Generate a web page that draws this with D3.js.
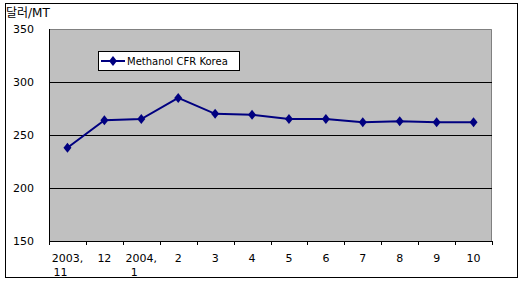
<!DOCTYPE html>
<html>
<head>
<meta charset="utf-8">
<script src="https://cdn.jsdelivr.net/npm/d3@7"></script>
<style>
  body { margin: 0; background: #fff; }
  svg text { font-family: "DejaVu Sans", "Noto Sans CJK KR", sans-serif; fill: #000; }
</style>
</head>
<body>
<svg id="chart" width="523" height="286"></svg>
<script>
// ---------------------- DATA ----------------------
const months = ["2003,|11", "12", "2004,|1", "2", "3", "4", "5", "6", "7", "8", "9", "10"];
const prices = [238, 264, 265, 285, 270, 269, 265, 265, 262, 263, 262, 262];
const yTicks = [150, 200, 250, 300, 350];
const seriesName = "Methanol CFR Korea";
const unitLabel = "달러/MT";

// ---------------------- LAYOUT ----------------------
const svg = d3.select("#chart");
const plot = {left: 49, right: 492, top: 29, bottom: 241};

// outer frame
svg.append("rect")
    .attr("x", 5.5).attr("y", 3.5)
    .attr("width", 512).attr("height", 274)
    .attr("fill", "#fff").attr("stroke", "#000");

const x = d3.scaleBand().domain(d3.range(months.length)).range([plot.left, plot.right]);
const y = d3.scaleLinear().domain([150, 350]).range([plot.bottom, plot.top]);

// plot area background
svg.append("rect")
    .attr("x", plot.left).attr("y", plot.top)
    .attr("width", plot.right - plot.left).attr("height", plot.bottom - plot.top)
    .attr("fill", "#c0c0c0");

// gray top/right frame of plot area
svg.append("path")
    .attr("d", `M${plot.left},${plot.top + 0.5}H${plot.right - 0.5}V${plot.bottom}`)
    .attr("fill", "none").attr("stroke", "#808080");

// gridlines
svg.selectAll(".grid")
    .data(yTicks.filter(t => t > 150 && t < 350))
    .join("line")
    .attr("class", "grid")
    .attr("x1", plot.left).attr("x2", plot.right)
    .attr("y1", d => Math.round(y(d)) + 0.5).attr("y2", d => Math.round(y(d)) + 0.5)
    .attr("stroke", "#000");

// y labels
svg.selectAll(".ylab")
    .data(yTicks)
    .join("text")
    .attr("class", "ylab")
    .attr("x", 34).attr("y", d => y(d) + 4)
    .attr("text-anchor", "end")
    .style("font-size", "11px")
    .text(d => d);

// axes lines
svg.append("line")
    .attr("x1", plot.left + 0.5).attr("x2", plot.left + 0.5)
    .attr("y1", plot.top).attr("y2", plot.bottom)
    .attr("stroke", "#000");
svg.append("line")
    .attr("x1", plot.left).attr("x2", plot.right)
    .attr("y1", plot.bottom + 0.5).attr("y2", plot.bottom + 0.5)
    .attr("stroke", "#000");

// x ticks between categories
svg.selectAll(".xtick")
    .data(d3.range(months.length + 1))
    .join("line")
    .attr("class", "xtick")
    .attr("x1", d => Math.round(plot.left + d * x.step()) + 0.5)
    .attr("x2", d => Math.round(plot.left + d * x.step()) + 0.5)
    .attr("y1", plot.bottom).attr("y2", plot.bottom + 4)
    .attr("stroke", "#000");

// x labels (two lines where needed)
const xl = svg.selectAll(".xlab")
    .data(months)
    .join("text")
    .attr("class", "xlab")
    .attr("text-anchor", "middle")
    .style("font-size", "11px");
xl.each(function(d, i) {
    const parts = d.split("|");
    const cx = x(i) + x.bandwidth() / 2;
    parts.forEach((p, k) => {
        d3.select(this).append("tspan")
            .attr("x", cx - (k > 0 ? 7 : 0))
            .attr("y", 262 + k * 14)
            .text(p);
    });
});

// series line
const line = d3.line()
    .x((d, i) => x(i) + x.bandwidth() / 2)
    .y(d => y(d));

svg.append("path")
    .datum(prices)
    .attr("d", line)
    .attr("fill", "none")
    .attr("stroke", "#000080")
    .attr("stroke-width", 2);

const diamond = "M0,-5L4,0L0,5L-4,0Z";
svg.selectAll(".pt")
    .data(prices)
    .join("path")
    .attr("class", "pt")
    .attr("d", diamond)
    .attr("transform", (d, i) => `translate(${x(i) + x.bandwidth() / 2},${y(d)})`)
    .attr("fill", "#000080");

// legend
const lg = svg.append("g").attr("transform", "translate(98,51)");
lg.append("rect")
    .attr("x", 0.5).attr("y", 0.5).attr("width", 141).attr("height", 19)
    .attr("fill", "#fff").attr("stroke", "#000");
lg.append("line")
    .attr("x1", 3).attr("x2", 27).attr("y1", 10).attr("y2", 10)
    .attr("stroke", "#000080").attr("stroke-width", 2);
lg.append("path").attr("d", diamond).attr("transform", "translate(15,10)").attr("fill", "#000080");
lg.append("text")
    .attr("x", 29).attr("y", 14)
    .style("font-size", "10px")
    .text(seriesName);

// unit label
svg.append("text")
    .attr("x", 6).attr("y", 17)
    .style("font-size", "12px")
    .text(unitLabel);
</script>
</body>
</html>
